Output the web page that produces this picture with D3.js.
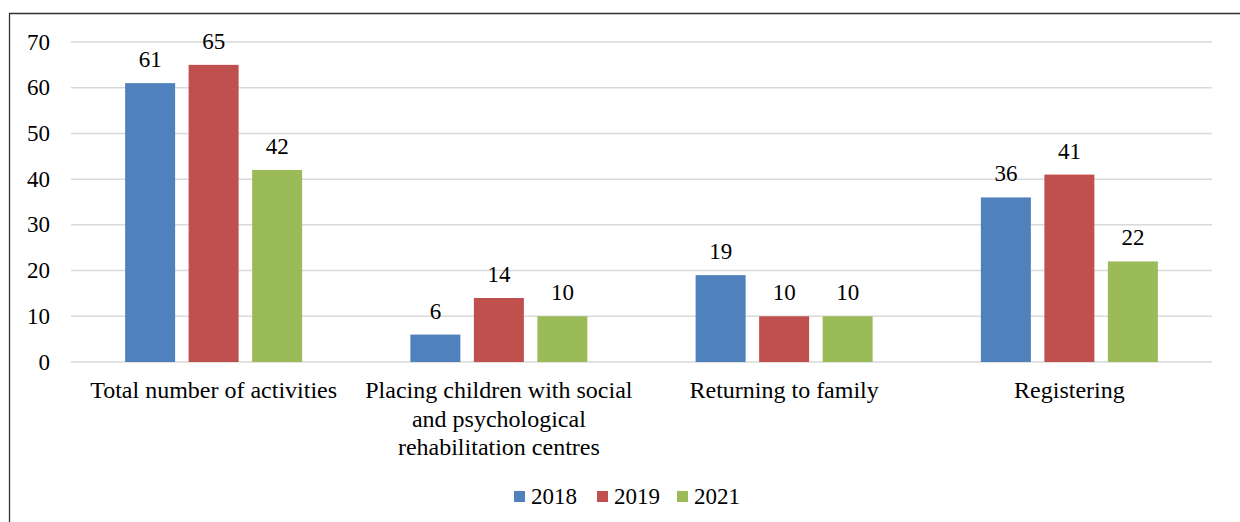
<!DOCTYPE html>
<html>
<head>
<meta charset="utf-8">
<script src="https://cdn.jsdelivr.net/npm/d3@7"></script>
</head>
<body style="margin:0">
<script>
// Chart data
var categories = [
  ["Total number of activities"],
  ["Placing children with social", "and psychological", "rehabilitation centres"],
  ["Returning to family"],
  ["Registering"]
];
var years = ["2018", "2019", "2021"];
var values2018 = [61, 6, 19, 36];
var values2019 = [65, 14, 10, 41];
var values2021 = [42, 10, 10, 22];
var yTicks = [0, 10, 20, 30, 40, 50, 60, 70];
var colors = ["#4f81bd", "#c0504d", "#9bbb59"];

var series = [values2018, values2019, values2021];

var W = 1240, H = 522;
var margin = {left: 71, right: 28, top: 42, bottom: 160};
var numSize = 23, catSize = 24;
var fontFam = function() { return "'Liberation Serif'"; };

var svg = d3.select("body").append("svg")
    .attr("width", W)
    .attr("height", H);

// outer frame (top and left edges only show)
svg.append("path")
    .attr("d", "M9.5," + H + "V13.5H" + W)
    .attr("fill", "none")
    .attr("stroke", "#333")
    .attr("stroke-width", 1.3);

var x0 = d3.scaleBand()
    .domain(d3.range(categories.length))
    .range([margin.left, W - margin.right]);

var y = d3.scaleLinear()
    .domain([0, 70])
    .range([H - margin.bottom, margin.top]);

var barW = 50, step = 63.5;

// gridlines
svg.append("g").selectAll("line")
    .data(yTicks)
    .enter().append("line")
    .attr("x1", margin.left)
    .attr("x2", W - margin.right)
    .attr("y1", function(d) { return y(d); })
    .attr("y2", function(d) { return y(d); })
    .attr("stroke", "#d9d9d9")
    .attr("stroke-width", 1.5);

// y axis labels
svg.append("g").selectAll("text")
    .data(yTicks)
    .enter().append("text")
    .attr("x", 50)
    .attr("y", function(d) { return y(d); })
    .attr("dy", "0.33em")
    .attr("text-anchor", "end")
    .attr("font-size", numSize)
    .style("font-family", fontFam)
    .text(function(d) { return d; });

// bars
series.forEach(function(vals, s) {
  var g = svg.append("g");
  g.selectAll("rect")
      .data(vals)
      .enter().append("rect")
      .attr("x", function(d, i) { return x0(i) + x0.bandwidth() / 2 + (s - 1) * step - barW / 2; })
      .attr("y", function(d) { return y(d); })
      .attr("width", barW)
      .attr("height", function(d) { return y(0) - y(d); })
      .attr("fill", colors[s]);
  g.selectAll("text")
      .data(vals)
      .enter().append("text")
      .attr("x", function(d, i) { return x0(i) + x0.bandwidth() / 2 + (s - 1) * step; })
      .attr("y", function(d) { return y(d) - 16; })
      .attr("text-anchor", "middle")
      .attr("font-size", numSize)
      .style("font-family", fontFam)
      .text(function(d) { return d; });
});

// category labels
var cat = svg.append("g").selectAll("text")
    .data(categories)
    .enter().append("text")
    .attr("text-anchor", "middle")
    .attr("font-size", catSize)
    .style("font-family", fontFam)
    .attr("x", function(d, i) { return x0(i) + x0.bandwidth() / 2; })
    .attr("y", 398);
cat.selectAll("tspan")
    .data(function(d) { return d; })
    .enter().append("tspan")
    .attr("x", function() { return this.parentNode.getAttribute("x"); })
    .attr("dy", function(d, i) { return i === 0 ? 0 : 28.5; })
    .text(function(d) { return d; });

// legend
var legendX = [514, 597, 677];
var leg = svg.append("g").selectAll("g")
    .data(years)
    .enter().append("g")
    .attr("transform", function(d, i) { return "translate(" + legendX[i] + ",491)"; });
leg.append("rect")
    .attr("width", 11)
    .attr("height", 11)
    .attr("fill", function(d, i) { return colors[i]; });
leg.append("text")
    .attr("x", 17)
    .attr("y", 13)
    .attr("font-size", numSize)
    .style("font-family", fontFam)
    .text(function(d) { return d; });
</script>
</body>
</html>
